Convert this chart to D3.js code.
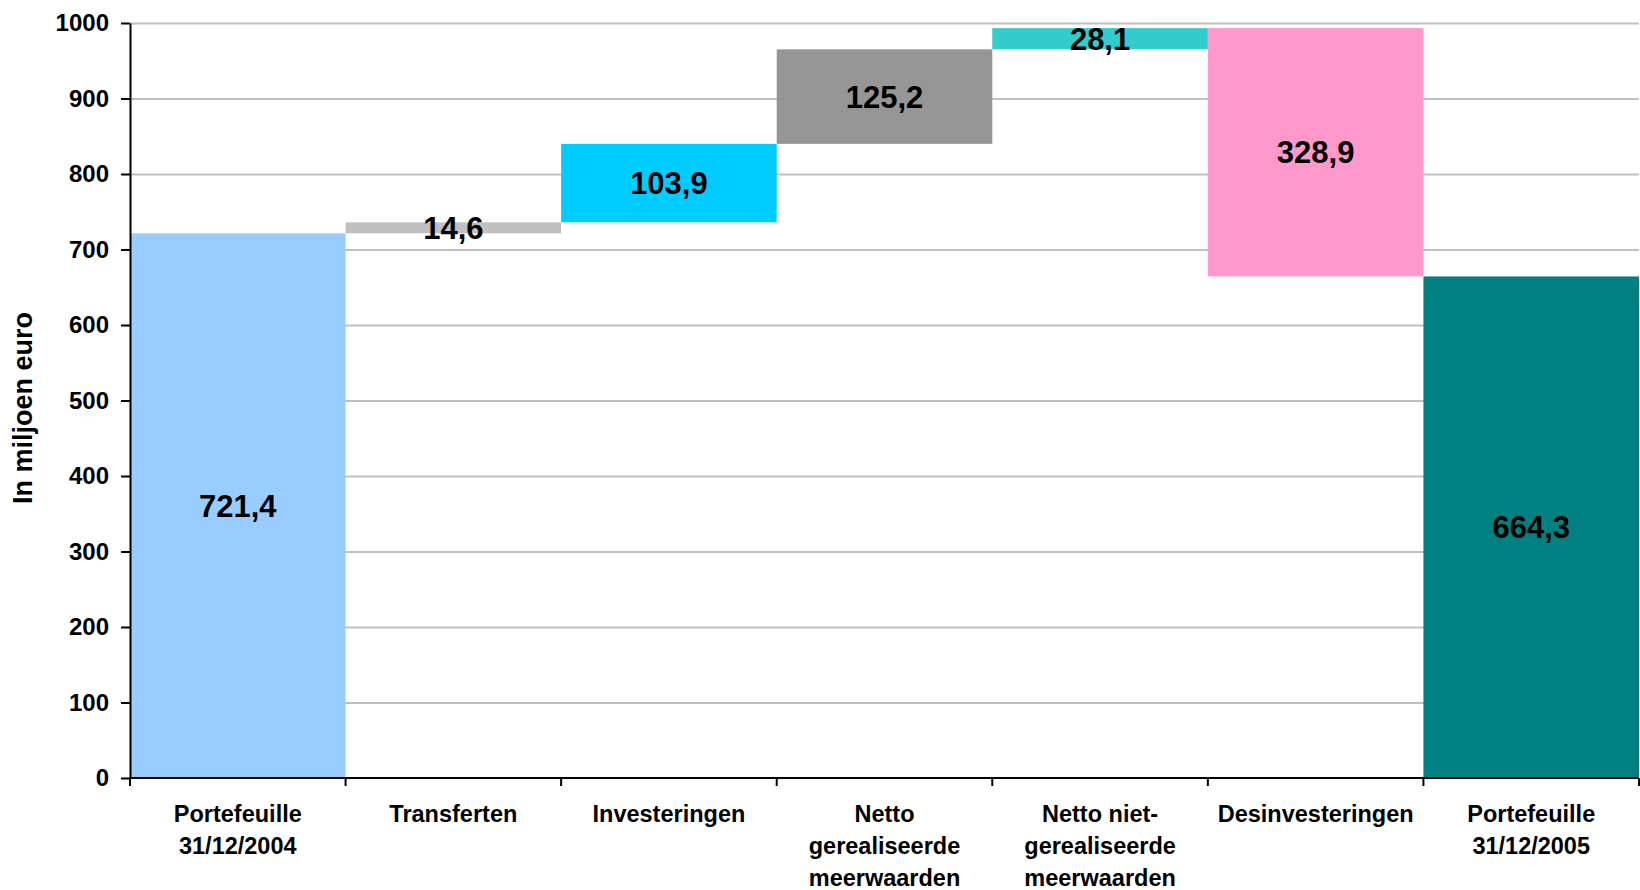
<!DOCTYPE html>
<html lang="nl">
<head>
    <meta charset="UTF-8">
    <title>Portefeuille</title>
    <style>
        body { margin: 0; background: #fff; }
        text { font-family: "Liberation Sans", Arial, sans-serif; font-weight: bold; fill: #000; }
    </style>
</head>
<script src="https://d3js.org/d3.v7.min.js"></script>
<body>
<svg width="1640" height="890" class="waterfall"></svg>

<script>
    // chart data
    var categories = ["Portefeuille\n31/12/2004", "Transferten", "Investeringen",
        "Netto\ngerealiseerde\nmeerwaarden", "Netto niet-\ngerealiseerde\nmeerwaarden",
        "Desinvesteringen", "Portefeuille\n31/12/2005"];
    var steps = [721.4, 14.6, 103.9, 125.2, 28.1, -328.9, 664.3];
    var isTotal = [true, false, false, false, false, false, true];
    var barColors = ["#99ccff", "#c0c0c0", "#00ccff", "#969696", "#33cccc", "#ff99cc", "#008080"];
    var yTicks = [0, 100, 200, 300, 400, 500, 600, 700, 800, 900, 1000];

    var svg = d3.select("svg.waterfall"),
        plotLeft = 130, plotRight = 1639, plotTop = 23, plotBottom = 778;

    // running totals -> start/end of each bar
    var data = [];
    var running = 0;
    steps.forEach(function (v, i) {
        var d = {cat: categories[i], value: v, color: barColors[i]};
        if (isTotal[i]) {
            d.y0 = 0; d.y1 = v; running = v;
        } else {
            d.y0 = running; d.y1 = running + v; running += v;
        }
        data.push(d);
    });

    var xScale = d3.scaleBand().domain(categories).range([plotLeft, plotRight]).padding(0),
        yScale = d3.scaleLinear().domain([0, 1000]).range([plotBottom, plotTop]);

    var nl = d3.formatLocale({decimal: ",", thousands: ".", grouping: [3], currency: ["€", ""]});
    var fmt = nl.format(".1f");

    // gridlines
    svg.append("g")
        .attr("transform", "translate(" + plotLeft + ",0)")
        .call(d3.axisLeft(yScale).tickValues(yTicks.slice(1)).tickSize(-(plotRight - plotLeft)).tickFormat(""))
        .call(function (g) {
            g.select(".domain").remove();
            g.selectAll("line").attr("stroke", "#c0c0c0").attr("stroke-width", 2);
        });

    // bars
    svg.selectAll(".bar")
        .data(data)
        .enter().append("rect")
        .attr("class", "bar")
        .attr("x", function (d) { return xScale(d.cat); })
        .attr("y", function (d) { return yScale(Math.max(d.y0, d.y1)); })
        .attr("width", xScale.bandwidth())
        .attr("height", function (d) { return Math.abs(yScale(d.y0) - yScale(d.y1)); })
        .attr("fill", function (d) { return d.color; });

    // y axis
    svg.append("g")
        .attr("transform", "translate(" + plotLeft + ",0)")
        .call(d3.axisLeft(yScale).tickValues(yTicks).tickFormat(d3.format("d"))
            .tickSize(9).tickPadding(12).tickSizeOuter(0))
        .call(function (g) {
            g.select(".domain").attr("stroke", "#000").attr("stroke-width", 2);
            g.selectAll("line").attr("stroke", "#000").attr("stroke-width", 2);
            g.selectAll("text").attr("font-size", "24px").attr("font-family", null).attr("fill", "#000");
        });

    // x axis with ticks on band boundaries
    var xAxis = svg.append("g").attr("transform", "translate(0," + plotBottom + ")");
    xAxis.append("line")
        .attr("x1", plotLeft - 1).attr("x2", plotRight)
        .attr("stroke", "#000").attr("stroke-width", 2);
    var bounds = categories.map(function (c) { return xScale(c); }).concat([plotRight]);
    xAxis.selectAll(".xtick")
        .data(bounds)
        .enter().append("line")
        .attr("class", "xtick")
        .attr("x1", function (d) { return d; })
        .attr("x2", function (d) { return d; })
        .attr("y1", 0).attr("y2", 8)
        .attr("stroke", "#000").attr("stroke-width", 2);

    // category labels
    var catLabels = xAxis.selectAll(".cat")
        .data(categories)
        .enter().append("text")
        .attr("class", "cat")
        .attr("text-anchor", "middle")
        .attr("font-size", "23.5px")
        .attr("x", function (d) { return xScale(d) + xScale.bandwidth() / 2; });
    catLabels.selectAll("tspan")
        .data(function (d) { return d.split("\n"); })
        .enter().append("tspan")
        .attr("x", function () { return d3.select(this.parentNode).attr("x"); })
        .attr("y", function (d, i) { return 44 + i * 32; })
        .text(function (d) { return d; });

    // value labels
    svg.selectAll(".val")
        .data(data)
        .enter().append("text")
        .attr("class", "val")
        .attr("text-anchor", "middle")
        .attr("font-size", "31px")
        .attr("dy", "0.36em")
        .attr("x", function (d) { return xScale(d.cat) + xScale.bandwidth() / 2; })
        .attr("y", function (d) { return (yScale(d.y0) + yScale(d.y1)) / 2; })
        .text(function (d) { return fmt(Math.abs(d.value)); });

    // y title
    svg.append("text")
        .attr("transform", "translate(32,408) rotate(-90)")
        .attr("text-anchor", "middle")
        .attr("font-size", "27px")
        .text("In miljoen euro");
</script>
</body>
</html>
